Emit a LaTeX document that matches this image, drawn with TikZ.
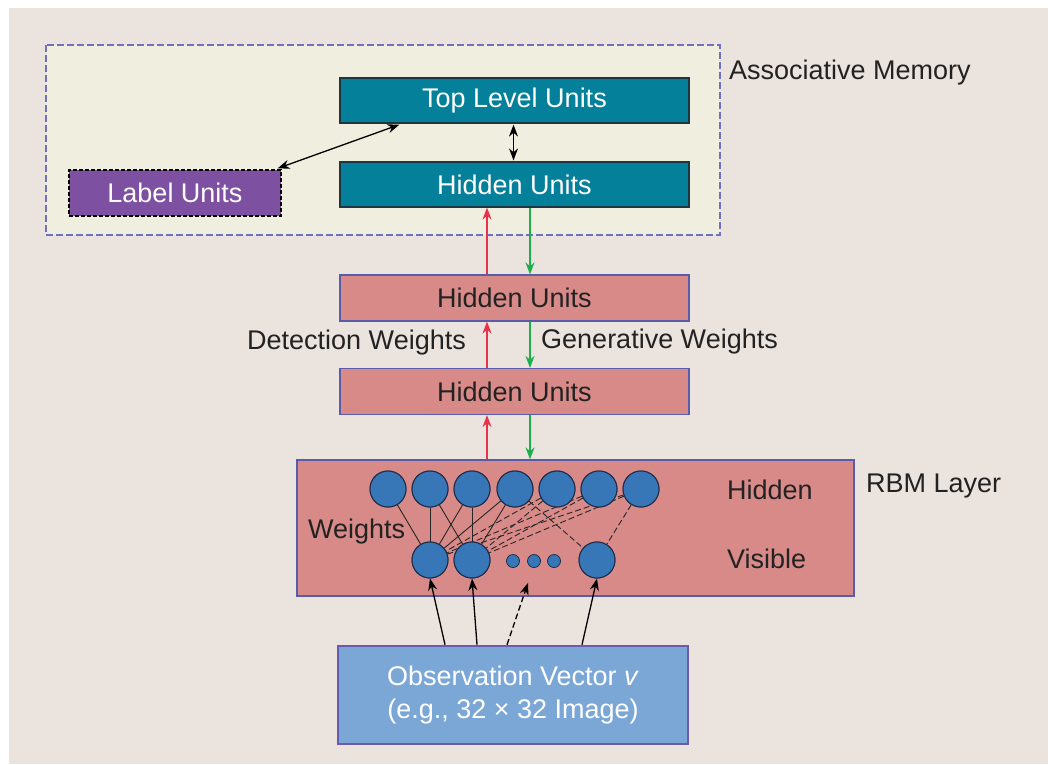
\documentclass[tikz,border=0pt]{standalone}
\usepackage{fontspec}
\setmainfont{Liberation Sans}
\usetikzlibrary{arrows.meta,calc}

\definecolor{pagebg}{HTML}{EBE3DE}
\definecolor{memfill}{HTML}{EFEEDF}
\definecolor{memline}{HTML}{7070BE}
\definecolor{tealfill}{HTML}{05809B}
\definecolor{tealline}{HTML}{1E3542}
\definecolor{labelfill}{HTML}{7D50A2}
\definecolor{pinkfill}{HTML}{D88A88}
\definecolor{pinkline}{HTML}{5A5CAA}
\definecolor{unitfill}{HTML}{3777B8}
\definecolor{unitline}{HTML}{1E2C48}
\definecolor{obsfill}{HTML}{7BA7D6}
\definecolor{obsline}{HTML}{6A5AB0}
\definecolor{upred}{HTML}{E8324B}
\definecolor{downgreen}{HTML}{1DAF4B}
\definecolor{inktext}{HTML}{222222}

\newcommand{\labelsize}{\fontsize{27}{32}\selectfont}

\tikzset{
  txt/.style={font=\labelsize, text=inktext},
  lbl/.style={txt, inner sep=0pt},
  tealbox/.style={draw=tealline, line width=1.2pt, fill=tealfill,
    minimum width=349pt, minimum height=45pt, inner sep=0pt,
    font=\labelsize, text=white},
  pinkbox/.style={draw=pinkline, line width=1.2pt, fill=pinkfill,
    minimum width=349pt, minimum height=46pt, inner sep=0pt, txt},
  unit/.style={circle, draw=unitline, line width=1pt, fill=unitfill,
    minimum size=36pt, inner sep=0pt},
  dot/.style={circle, draw=unitline, line width=0.8pt, fill=unitfill,
    minimum size=13pt, inner sep=0pt},
  tip/.style={-{Stealth[length=12pt,width=9pt]}},
  twotip/.style={{Stealth[length=12pt,width=9pt]}-{Stealth[length=12pt,width=9pt]}},
  uparrow/.style={tip, draw=upred, line width=1.4pt},
  downarrow/.style={tip, draw=downgreen, line width=1.4pt},
  blackarrow/.style={draw=black, line width=1.3pt},
  weight/.style={draw=black!85, line width=0.9pt},
  dweight/.style={weight, dash pattern=on 6pt off 3pt},
}

\begin{document}
\begin{tikzpicture}[x=1pt, y=-1pt]
  % canvas and page tint
  \useasboundingbox (0,0) rectangle (1048,764);
  \fill[white] (0,0) rectangle (1048,764);
  \fill[pagebg] (9,8) rectangle (1048,764);

  % associative memory region
  \draw[memline, fill=memfill, line width=1.3pt, dash pattern=on 7pt off 3pt]
    (46,45) rectangle (720,235);
  \node[lbl, anchor=west] (memlabel) at (729,73) {Associative Memory};

  \node[tealbox] (top) at (514.5,100.5) {Top Level Units};
  \node[tealbox] (hidtop) at (514.5,184.5) {Hidden Units};
  \node[draw=black, dash pattern=on 4pt off 2pt, line width=1.2pt, fill=labelfill,
        minimum width=212pt, minimum height=46pt, inner sep=0pt,
        font=\labelsize, text=white] (label) at (175,193) {Label Units};

  \draw[blackarrow, twotip] ($(label.north east)+(-4,-1)$) -- ($(top.south west)+(60,1)$);
  \draw[blackarrow, twotip] ($(top.south)+(-1,1)$) -- ($(hidtop.north)+(-1,-1)$);

  % directed hidden layers
  \node[pinkbox] (hidA) at (514.5,298) {Hidden Units};
  \node[pinkbox] (hidB) at (514.5,391.5) {Hidden Units};

  \coordinate (rx) at (487,0);
  \coordinate (gx) at (530,0);

  \draw[uparrow] (hidA.north -| rx) -- (hidtop.south -| rx);
  \draw[downarrow] (hidtop.south -| gx) -- (hidA.north -| gx);
  \draw[uparrow] (hidB.north -| rx) -- (hidA.south -| rx);
  \draw[downarrow] (hidA.south -| gx) -- (hidB.north -| gx);

  \node[lbl, anchor=east] (detlabel) at (466,343) {Detection Weights};
  \node[lbl, anchor=west] (genlabel) at (541,342) {Generative Weights};

  % RBM layer
  \node[draw=pinkline, line width=1.3pt, fill=pinkfill, minimum width=557pt,
        minimum height=136pt, inner sep=0pt] (rbm) at (575.5,528) {};
  \node[lbl, anchor=west] (rbmlabel) at (866,486) {RBM Layer};

  \draw[uparrow] (rbm.north -| rx) -- (hidB.south -| rx);
  \draw[downarrow] (hidB.south -| gx) -- (rbm.north -| gx);

  \foreach \i/\x in {1/388,2/430,3/472,4/515,5/557,6/599,7/641}
    \node[unit] (h\i) at (\x,489) {};
  \node[unit] (v1) at (430,560) {};
  \node[unit] (v2) at (472,560) {};
  \node[unit] (v3) at (597,560) {};
  \node[dot] (d1) at (513,561) {};
  \node[dot] (d2) at (534,561) {};
  \node[dot] (d3) at (554,561) {};

  % weights between the two layers
  \foreach \i in {1,2,3,4}
    \draw[weight] (h\i) -- (v1);
  \foreach \i in {5,6,7}
    \draw[dweight] (h\i) -- (v1);
  \foreach \i in {2,3,4}
    \draw[weight] (h\i) -- (v2);
  \foreach \i in {5,6,7}
    \draw[dweight] (h\i) -- (v2);
  \draw[dweight] (h4) -- (v3);
  \draw[dweight] (h7) -- (v3);

  % redraw the units over their connections
  \foreach \i/\x in {1/388,2/430,3/472,4/515,5/557,6/599,7/641}
    \node[unit] at (\x,489) {};
  \node[unit] at (430,560) {};
  \node[unit] at (472,560) {};
  \node[unit] at (597,560) {};

  \node[lbl, anchor=west] (hidlabel) at (727,490) {Hidden};
  \node[lbl, anchor=west] (vislabel) at (727,559) {Visible};
  \node[lbl, anchor=west] (wlabel) at (308,532) {Weights};

  % observation vector
  \node[draw=obsline, line width=2.6pt, fill=obsfill, minimum width=350pt,
        minimum height=98pt, inner sep=0pt, align=center,
        font=\fontsize{27}{33}\selectfont, text=white] (obs) at (513,695)
        {Observation Vector \textit{v}\\(e.g., 32 × 32 Image)};

  \coordinate (o1) at (445,0);
  \coordinate (o2) at (477,0);
  \coordinate (o3) at (507,0);
  \coordinate (o4) at (582,0);
  \draw[blackarrow, tip] (obs.north -| o1) -- (v1.south);
  \draw[blackarrow, tip] (obs.north -| o2) -- (v2.south);
  \draw[blackarrow, tip, dash pattern=on 6pt off 3pt] (obs.north -| o3) -- ($(d2.south)+(-6,15)$);
  \draw[blackarrow, tip] (obs.north -| o4) -- (v3.south);
\end{tikzpicture}
\end{document}
